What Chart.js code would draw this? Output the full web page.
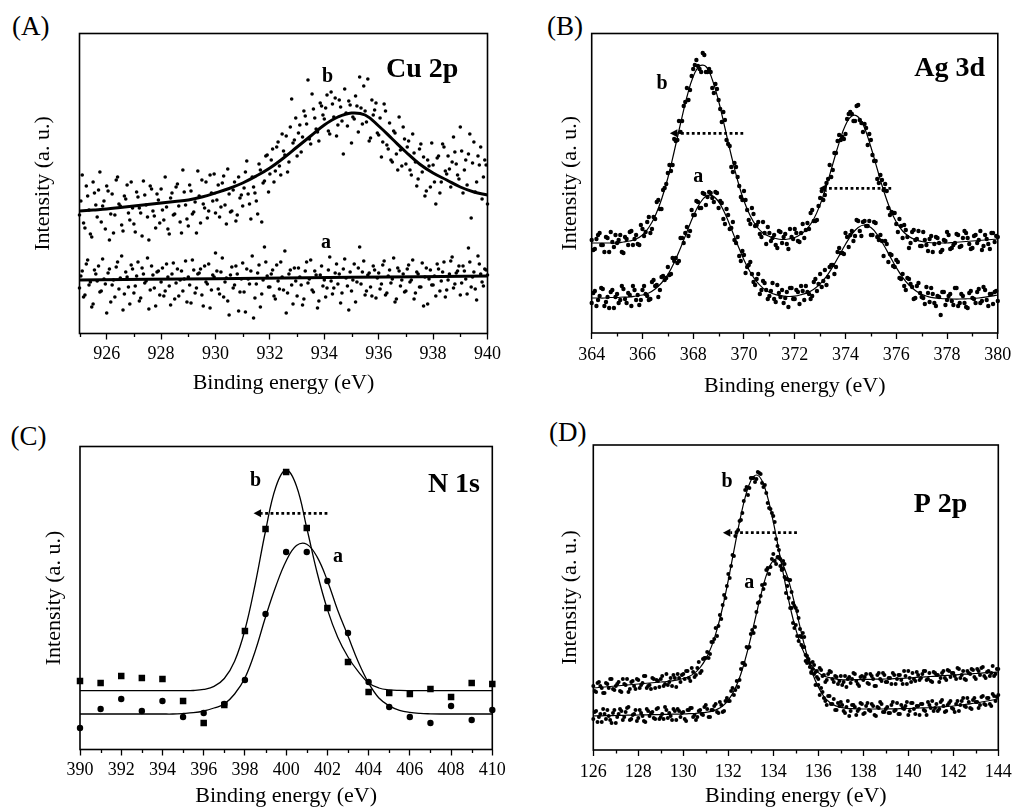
<!DOCTYPE html>
<html>
<head>
<meta charset="utf-8">
<title>XPS spectra: Cu 2p, Ag 3d, N 1s, P 2p</title>
<script src="https://cdn.jsdelivr.net/npm/chart.js@4.4.1/dist/chart.umd.min.js"></script>
<style>
  html, body { margin: 0; padding: 0; background: #fff; width: 1017px; height: 809px; overflow: hidden; }
  body { position: relative; }
  canvas { position: absolute; }
  .tag { position: absolute; font-family: "Liberation Serif", "Times New Roman", serif; font-size: 27px; line-height: 27px; color: #000; white-space: nowrap; }
</style>
</head>
<body>
<div class="tag" style="left:12px;top:12.5px">(A)</div>
<div class="tag" style="left:547px;top:12.5px">(B)</div>
<div class="tag" style="left:10.5px;top:422.5px">(C)</div>
<div class="tag" style="left:549px;top:419px">(D)</div>
<canvas id="panelA" width="510" height="410" style="left:0px;top:0px"></canvas>
<canvas id="panelB" width="509" height="410" style="left:508px;top:0px"></canvas>
<canvas id="panelC" width="510" height="420" style="left:0px;top:410px"></canvas>
<canvas id="panelD" width="509" height="420" style="left:508px;top:410px"></canvas>
<script>
// Each scan is stored as two interleaved halves: the main grid and the grid shifted by half a step.

// ---------- Cu 2p (panel A): scan 925-940 eV ----------
const cuScanStart = 925, cuScanStep = 0.1;
const cuMidStart = 925.05;
const cuPointsB = [
  117,157,104,136,98,150,127,142,110,131,
  146,92,138,117,155,126,101,133,119,150,
  108,140,124,96,137,115,146,121,104,132,
  143,112,125,98,139,118,148,110,162,127,
  106,141,120,99,136,152,124,114,157,131,
  119,147,125,156,108,138,121,150,117,134,
  126,160,138,113,145,131,168,110,151,177,
  158,183,161,190,157,181,196,170,233,192,
  176,207,195,216,252,188,223,203,191,226,
  213,237,198,228,234,207,225,178,219,231,
  189,213,226,255,208,221,253,194,217,229,
  197,175,228,187,209,170,199,162,182,205,
  168,191,157,179,146,183,160,136,172,145,
  167,128,176,150,185,158,163,170,180,157,
  205,139,172,178,114,190,150,167,133,172,
  128
];
const cuPointsBMid = [
  131,109,146,122,95,139,115,160,126,103,
  141,118,99,152,128,107,136,147,112,124,
  100,135,119,151,127,92,143,116,138,109,
  122,155,103,134,117,145,126,99,140,113,
  147,118,130,161,109,128,150,121,139,158,
  132,115,149,127,163,120,142,111,155,137,
  144,171,128,155,139,118,162,149,176,140,
  172,150,185,166,198,177,160,205,189,214,
  199,180,221,208,193,238,214,200,229,217,
  224,201,240,215,196,232,211,243,206,227,
  215,236,200,224,246,210,191,232,222,199,
  214,190,221,183,172,201,178,215,166,193,
  185,162,198,170,153,188,175,141,166,189,
  150,174,139,188,161,176,145,195,168,153,
  181,162,147,198,169,140,176,185,155,167
];
const cuPointsA = [
  44,61,37,72,50,28,58,66,41,53,
  19,63,47,35,70,54,22,60,45,67,
  39,56,31,64,49,74,42,57,26,61,
  50,36,68,46,58,33,63,52,41,71,
  55,29,62,44,59,37,66,48,24,57,
  79,43,60,35,54,17,65,47,58,40,
  69,20,53,61,14,48,67,38,85,56,
  45,62,33,51,70,42,19,58,47,64,
  36,55,27,61,49,72,40,57,31,66,
  52,44,75,38,59,48,29,63,54,22,
  41,68,50,85,60,37,57,45,66,34,
  59,48,71,39,62,53,30,64,46,58,
  41,67,52,33,60,45,69,55,28,62,
  47,36,63,51,70,42,58,75,48,61,
  37,66,53,84,45,60,32,68,50,63,
  57
];
const cuPointsAMid = [
  56,35,68,47,25,62,51,40,73,48,
  59,30,52,65,43,76,38,55,28,63,
  46,70,34,58,51,23,66,44,60,37,
  64,41,55,27,69,49,36,61,53,30,
  47,72,39,58,63,26,50,68,42,55,
  61,38,74,50,31,57,44,66,21,53,
  40,63,48,76,34,59,25,52,70,45,
  58,36,67,43,55,81,39,62,28,51,
  64,47,33,70,53,42,61,24,57,46,
  35,62,51,44,68,58,39,73,46,60,
  52,30,64,48,71,41,59,36,62,54,
  43,67,37,56,49,74,33,61,52,40,
  63,50,72,39,58,45,26,64,53,47,
  56,68,41,60,35,52,71,44,59,66,
  49,61,38,70,55,43,76,58,46,62
];
const cuFitStep = 0.5;
const cuFitB = [121,122,123,124.5,126,127.5,129,130.5,132,135,139,143.5,149,156,164,174,185,196,207,215,219,217,206,193,180,168,159,152,145,140,137];
const cuFitAStep = 5;
const cuFitA = [52,53.3,54.7,56];
const cuTicks = [926,928,930,932,934,936,938,940];
const cuMinorTicks = [925,927,929,931,933,935,937,939];

// ---------- Ag 3d (panel B): scan 364-380 eV ----------
const agScanStart = 364, agScanStep = 0.125;
const agMidStart = 364.0625;
const agPointsB = [
  92,83,97,87,80,94,100,85,
  89,97,79,93,100,87,97,87,
  103,100,115,103,113,132,123,144,
  159,161,193,192,200,226,244,242,
  263,272,263,279,260,263,244,248,
  232,210,212,188,165,169,155,135,
  141,122,108,118,107,98,110,88,
  99,94,87,101,89,98,83,95,
  103,91,99,94,109,119,111,112,
  134,132,149,167,162,179,197,195,
  198,218,218,211,227,209,208,187,
  192,171,153,157,142,141,117,119,
  108,113,94,102,84,100,92,101,
  86,92,81,96,88,94,80,92,
  100,83,87,98,85,94,99,88,
  84,97,92,82,97,88,99,90,
  95
];
const agPointsBMid = [
  82,93,99,87,95,80,90,97,
  92,80,95,87,101,93,88,107,
  96,110,99,115,130,123,142,148,
  167,167,191,211,211,230,232,256,
  267,266,260,277,260,260,239,243,
  223,220,192,186,160,165,146,132,
  132,112,124,106,110,95,99,105,
  91,97,84,100,95,88,103,93,
  99,90,108,102,103,122,111,126,
  141,137,153,155,179,191,192,193,
  213,220,211,226,212,200,204,198,
  177,171,149,152,148,124,120,119,
  100,106,107,95,89,102,93,86,
  100,87,93,80,95,89,82,91,
  97,84,89,97,86,101,94,83,
  96,89,101,86,93,83,99,96
];
const agPointsA = [
  29,41,32,44,26,35,40,24,
  38,32,43,29,37,46,32,27,
  42,38,32,50,46,35,55,52,
  65,58,71,69,94,89,105,101,
  117,131,124,139,127,140,134,140,
  124,129,108,117,104,92,95,71,
  77,65,70,50,53,38,51,42,
  36,49,30,39,42,34,25,44,
  33,40,46,32,40,33,50,41,
  58,51,47,65,67,65,84,79,
  99,85,101,96,111,96,111,106,
  97,110,95,97,76,88,78,66,
  72,54,58,42,53,45,34,49,
  35,28,39,44,29,36,17,40,
  32,38,27,44,29,36,25,39,
  34,29,43,31,42,26,38,40,
  31
];
const agPointsAMid = [
  39,26,36,43,30,24,42,35,
  29,46,33,39,26,42,37,32,
  46,36,33,52,47,42,56,54,
  57,74,74,71,94,99,96,122,
  117,130,124,138,135,139,130,139,
  131,113,123,103,110,89,76,81,
  59,67,58,47,58,42,49,33,
  41,33,47,35,29,40,44,33,
  42,28,41,46,38,36,53,48,
  45,62,55,67,58,80,79,78,
  95,97,91,112,101,110,106,111,
  97,109,92,91,91,70,77,65,
  70,53,46,54,48,33,46,39,
  34,45,30,38,26,35,40,27,
  36,31,44,26,38,29,24,41,
  33,40,29,45,32,38,28,41
];
const agFitStep = 0.25;
const agFitB = [
  89,89,89,89, 89,90,91,93, 97,104.5,116,132.5, 154,180.5,208.5,235,
  255.5,266,265.5,252.5, 231,204,176.5,151.5, 131,116,105.5,99, 95.5,93.5,92.5,93,
  94.5,98,103.7,113, 127.4,146,168,189.4, 207,216,215,204, 185,163,141.5,123.5,
  110,101,95.5,92.3, 90.5,89.5,89,89, 89,89.5,90,90.5, 91,91.5,92,92.5, 93
];
const agFitA = [
  34,34,34,34.5, 34.5,35,35,36, 37,39,43,49, 57.5,69.5,84,100,
  115.7,128.3,135.8,136.4, 130.3,118.5,103.3,87.2, 72.1,59.7,50.3,43.9, 39.8,37.4,36.1,35.5,
  35.8,37.3,39.4,42.8, 48.2,55.7,65.3,76.4, 87.7,97.7,104.6,107, 104.4,97.4,87.3,75.8,
  64.5,54.7,47,41.4, 37.6,35.4,34.1,33.5, 33.2,33,33,33.2, 33.5,34,34.8,35.8, 37
];
const agTicks = [364,366,368,370,372,374,376,378,380];
const agMinorTicks = [365,367,369,371,373,375,377,379];

// ---------- N 1s (panel C): 1 eV step, 390-410 eV ----------
const nScanStart = 390, nScanStep = 1;
const nPointsB = [68,66,73,71,70,48,26,44,118,220,277,221,141,87,57,56,55,60,52,66,65];
const nPointsA = [21,40,50,38,48,32,36,45,69,135,197,197,168,116,67,42,32,26,43,29,39];
const nFitStep = 0.5;
const nFitB = [
  58.3,58.3,58.3,58.3,58.3,58.3,58.3,58.3,58.3,58.3,
  58.3,58.5,59.6,62.6,70.5,87.8,119,165,218,262,
  279,263,221,176.5,139.6,111.7,92,77.3,66,61,
  59.2,58.6,58.4,58.3,58.3,58.3,58.3,58.3,58.3,58.3,58.3
];
const nFitA = [
  35,35,35,35,35,35,35,35,35,35,
  35.5,36.3,38,41,45,55,71,98,132,162.7,
  188,203.4,204.8,192.1,168.3,138.7,113,87,66,51,
  43.1,38.7,36.6,35.6,35.2,35,35,35,35,35,35
];
const nTicks = [390,392,394,396,398,400,402,404,406,408,410];
const nMinorTicks = [391,393,395,397,399,401,403,405,407,409];

// ---------- P 2p (panel D): scan 126-144 eV ----------
const pScanStart = 126, pScanStep = 0.125;
const pMidStart = 126.0625;
const pPointsB = [
  64,58,68,62,57,66,71,61,
  64,68,58,66,71,61,69,61,
  70,65,74,62,65,72,62,69,
  71,64,76,68,64,72,76,68,
  76,79,72,82,73,82,77,91,
  92,92,108,111,114,135,145,152,
  176,184,194,218,229,237,260,255,
  272,272,271,277,267,265,247,241,
  234,211,200,180,173,164,142,127,
  125,109,105,103,87,87,88,78,
  71,80,75,70,79,71,74,66,
  74,68,63,73,71,76,66,73,
  70,76,66,74,64,75,71,77,
  68,72,66,75,71,75,66,74,
  79,68,71,78,70,76,79,71,
  69,78,75,68,77,72,80,73,
  77,71,81,75,71,79,76,80,
  71,79,82,74,78,74,84,76,
  81
];
const pPointsBMid = [
  59,67,64,57,67,62,71,60,
  66,59,71,65,58,68,64,71,
  62,67,74,64,61,71,70,63,
  74,66,65,72,75,63,72,75,
  71,79,69,78,75,88,79,92,
  98,96,108,122,124,131,155,164,
  172,195,214,220,230,249,263,262,
  272,268,278,276,263,257,242,237,
  228,204,191,181,157,152,142,122,
  114,114,103,89,90,78,85,79,
  82,74,68,76,78,68,73,69,
  65,74,71,67,77,69,64,74,
  73,67,76,71,64,77,69,75,
  68,72,77,66,75,70,79,66,
  72,77,69,75,72,79,70,77,
  68,77,75,72,79,70,79,77,
  74,82,72,79,70,77,81,73,
  81,75,83,72,79,77,74,81
];
const pPointsA = [
  31,39,33,28,36,40,30,37,
  27,36,39,33,42,30,35,40,
  32,37,29,41,34,38,31,42,
  33,31,40,37,30,39,41,33,
  38,29,40,42,35,33,40,35,
  45,33,40,44,38,48,38,49,
  49,59,55,69,70,87,85,102,
  116,117,138,148,165,166,182,183,
  196,186,193,181,186,171,170,147,
  142,132,113,113,94,83,81,65,
  65,62,52,45,54,46,40,47,
  48,39,43,34,45,43,39,47,
  36,44,40,46,35,43,48,38,
  41,37,45,39,47,36,42,44,
  35,47,41,44,35,46,39,48,
  42,39,46,41,50,38,45,49,
  41,46,39,49,44,52,42,50,
  48,42,53,46,52,46,56,49,
  55
];
const pPointsAMid = [
  38,28,36,41,31,34,27,40,
  33,41,30,38,43,31,36,29,
  40,34,28,39,37,32,41,31,
  36,43,32,34,41,30,39,37,
  31,40,42,33,30,39,36,43,
  41,33,40,46,37,45,39,52,
  49,62,60,63,81,87,103,103,
  120,123,147,154,161,180,176,191,
  189,193,184,189,171,170,158,144,
  139,121,117,95,91,77,76,73,
  55,58,49,54,46,51,40,44,
  45,37,49,39,45,35,41,46,
  37,47,39,44,34,42,46,38,
  43,37,48,40,36,45,41,48,
  39,47,36,44,46,40,35,45,
  49,42,39,48,44,39,47,42,
  38,49,45,52,43,48,41,52,
  48,45,54,45,52,44,54,53
];
const pFitStep = 0.25;
const pFitB = [
  62,62.5,63,63.5, 64,64.5,65,65.5, 66,66.5,67,67.5, 68,68.5,69.2,70.2,
  71.5,73.5,76.9,82.5, 91.1,103.4,120.6,143, 169.9,199.3,228.1,252.6, 269.2,275,269.2,252.6,
  228.1,199.3,169.9,143, 120.6,103.4,91.1,82.8, 77.4,74,72.3,71.2, 70.3,70.1,70.2,70.4,
  70.5,70.6,70.8,70.9, 71,71.2,71.5,71.7, 72,72.4,72.8,73.1, 73.5,73.9,74.3,74.6,
  75,75.4,75.8,76.1, 76.5,76.9,77.3,77.6, 78
];
const pFitA = [
  34,34.1,34.3,34.4, 34.5,34.6,34.8,34.9, 35,35.1,35.3,35.4, 35.5,35.6,35.8,35.9,
  36,36.3,36.5,37.1, 37.6,38.7,40.6,44, 49.8,58.9,72.2,90.3, 112.3,136.3,159.7,178.6,
  189.6,190.7,181.5,163.9, 141.2,117,94.8,76.3, 62.9,53.5,47.7,44.4, 42.7,41.7,41.3,41.1,
  41,41,41,41, 41,41.1,41.2,41.4, 41.5,41.7,42,42.2, 42.5,42.9,43.2,43.6,
  44,44.7,45.5,46.2, 47,48,49,50, 51
];
const pTicks = [126,128,130,132,134,136,138,140,142,144];
const pMinorTicks = [127,129,131,133,135,137,139,141,143];

// ---------- helpers ----------
const SERIF = '"Liberation Serif", "Times New Roman", serif';
Chart.defaults.font.family = SERIF;
Chart.defaults.color = '#000';

function toXY(start, step, values) {
  return values.map((v, i) => ({ x: Math.round((start + i * step) * 10000) / 10000, y: v }));
}

// frame, minor ticks, shift arrows and text labels, all placed through the chart scales
const decor = {
  id: 'decor',
  afterDraw(chart, args, opts) {
    const { ctx, chartArea: a } = chart;
    const xs = chart.scales.x, ys = chart.scales.y;
    ctx.save();
    ctx.strokeStyle = '#000';
    ctx.fillStyle = '#000';
    ctx.lineWidth = 1.3;
    ctx.beginPath();
    (opts.minorTicks || []).forEach(v => {
      const px = Math.round(xs.getPixelForValue(v)) + 0.5;
      ctx.moveTo(px, a.bottom);
      ctx.lineTo(px, a.bottom + 3.5);
    });
    ctx.stroke();
    ctx.lineWidth = 1.6;
    ctx.strokeRect(a.left, a.top, a.right - a.left, a.bottom - a.top);
    (opts.arrows || []).forEach(ar => {
      const y0 = ys.getPixelForValue(ar.y);
      const xt = xs.getPixelForValue(ar.tail);
      const xh = xs.getPixelForValue(ar.head);
      const headLen = 7.5, headHalf = 4;
      ctx.lineWidth = 2.8;
      ctx.setLineDash([2.8, 2.6]);
      ctx.beginPath();
      ctx.moveTo(xt, y0);
      ctx.lineTo(xh + headLen, y0);
      ctx.stroke();
      ctx.setLineDash([]);
      ctx.beginPath();
      ctx.moveTo(xh, y0);
      ctx.lineTo(xh + headLen, y0 - headHalf);
      ctx.lineTo(xh + headLen, y0 + headHalf);
      ctx.closePath();
      ctx.fill();
    });
    (opts.texts || []).forEach(t => {
      ctx.font = 'bold ' + t.size + 'px ' + SERIF;
      ctx.textAlign = 'center';
      ctx.textBaseline = 'alphabetic';
      ctx.fillText(t.text, xs.getPixelForValue(t.x), ys.getPixelForValue(t.y));
    });
    ctx.restore();
  }
};

function makePanel(id, p) {
  const datasets = [];
  p.fits.forEach(f => datasets.push({
    data: f.data, showLine: true, borderColor: '#000', borderWidth: p.fitWidth,
    pointRadius: 0, pointHoverRadius: 0, tension: 0.4, fill: false, order: 0
  }));
  p.points.forEach(s => datasets.push({
    data: s.data, showLine: false, pointStyle: s.style || 'circle', pointRadius: s.radius,
    pointHoverRadius: s.radius, pointBackgroundColor: '#000', pointBorderColor: '#000',
    pointBorderWidth: 0, order: 1, clip: false
  }));
  return new Chart(document.getElementById(id), {
    type: 'scatter',
    data: { datasets },
    plugins: [decor],
    options: {
      responsive: false, animation: false, devicePixelRatio: 1, events: [],
      layout: { padding: { top: p.padTop, right: p.padRight, left: 0, bottom: 0 } },
      plugins: {
        legend: { display: false }, tooltip: { enabled: false },
        decor: { minorTicks: p.minorTicks, arrows: p.arrows, texts: p.texts }
      },
      scales: {
        x: {
          type: 'linear', position: 'bottom', min: p.xMin, max: p.xMax,
          afterBuildTicks: s => { s.ticks = p.ticks.map(v => ({ value: v })); },
          afterFit: s => { s.height = p.xHeight; },
          ticks: { autoSkip: false, maxRotation: 0, padding: p.tickPad, color: '#000',
                   font: { size: 18, family: SERIF }, callback: v => String(v) },
          grid: { display: true, drawOnChartArea: false, drawTicks: true, tickLength: 6,
                  tickWidth: 1.3, tickColor: '#000', color: '#000' },
          border: { display: false },
          title: { display: true, text: 'Binding energy (eV)', color: '#000',
                   font: { size: 22, family: SERIF }, padding: { top: 0, bottom: p.xTitlePad } }
        },
        y: {
          type: 'linear', position: 'left', min: p.yMin, max: p.yMax,
          afterFit: s => { s.width = p.yWidth; },
          ticks: { display: false },
          grid: { display: false },
          border: { display: false },
          title: { display: true, text: 'Intensity (a. u.)', color: '#000',
                   font: { size: 22, family: SERIF }, padding: { top: p.yTitlePad, bottom: 0 } }
        }
      }
    }
  });
}

makePanel('panelA', {
  xMin: 925, xMax: 940, yMin: -1.5, yMax: 298.5,
  padTop: 33.5, padRight: 22.5, yWidth: 79.5, xHeight: 76.5,
  tickPad: 4.2, xTitlePad: 13.3, yTitlePad: 29.8,
  ticks: cuTicks, minorTicks: cuMinorTicks, fitWidth: 3,
  fits: [
    { data: toXY(cuScanStart, cuFitStep, cuFitB) },
    { data: toXY(cuScanStart, cuFitAStep, cuFitA) }
  ],
  points: [
    { data: toXY(cuScanStart, cuScanStep, cuPointsB).concat(toXY(cuMidStart, cuScanStep, cuPointsBMid)), radius: 1.8 },
    { data: toXY(cuScanStart, cuScanStep, cuPointsA).concat(toXY(cuMidStart, cuScanStep, cuPointsAMid)), radius: 1.8 }
  ],
  arrows: [],
  texts: [
    { text: 'Cu 2p', x: 937.6, y: 255, size: 28 },
    { text: 'b', x: 934.12, y: 250.3, size: 20 },
    { text: 'a', x: 934.06, y: 83.7, size: 20 }
  ]
});

makePanel('panelB', {
  xMin: 364, xMax: 380, yMin: -1, yMax: 298.5,
  padTop: 33.5, padRight: 18.7, yWidth: 83.7, xHeight: 77,
  tickPad: 5.7, xTitlePad: 10.8, yTitlePad: 48.8,
  ticks: agTicks, minorTicks: agMinorTicks, fitWidth: 1.2,
  fits: [
    { data: toXY(agScanStart, agFitStep, agFitB) },
    { data: toXY(agScanStart, agFitStep, agFitA) }
  ],
  points: [
    { data: toXY(agScanStart, agScanStep, agPointsB).concat(toXY(agMidStart, agScanStep, agPointsBMid)), radius: 2.2 },
    { data: toXY(agScanStart, agScanStep, agPointsA).concat(toXY(agMidStart, agScanStep, agPointsAMid)), radius: 2.2 }
  ],
  arrows: [
    { tail: 369.97, head: 367.08, y: 198.7 },
    { tail: 375.8, head: 372.96, y: 143.7 }
  ],
  texts: [
    { text: 'Ag 3d', x: 378.1, y: 256, size: 28 },
    { text: 'b', x: 366.77, y: 242.7, size: 20 },
    { text: 'a', x: 368.2, y: 150.3, size: 20 }
  ]
});

makePanel('panelC', {
  xMin: 390, xMax: 410, yMin: -0.5, yMax: 302.5,
  padTop: 36.5, padRight: 16.7, yWidth: 80, xHeight: 80.5,
  tickPad: 4.2, xTitlePad: 20.1, yTitlePad: 40.8,
  ticks: nTicks, minorTicks: nMinorTicks, fitWidth: 1.3,
  fits: [
    { data: toXY(nScanStart, nFitStep, nFitB) },
    { data: toXY(nScanStart, nFitStep, nFitA) }
  ],
  points: [
    { data: toXY(nScanStart, nScanStep, nPointsB), radius: 4.6, style: 'rect' },
    { data: toXY(nScanStart, nScanStep, nPointsA), radius: 3.2 }
  ],
  arrows: [ { tail: 402.0, head: 398.42, y: 235.7 } ],
  texts: [
    { text: 'N 1s', x: 408.14, y: 257.3, size: 28 },
    { text: 'b', x: 398.52, y: 263, size: 20 },
    { text: 'a', x: 402.52, y: 187.3, size: 20 }
  ]
});

makePanel('panelD', {
  xMin: 126, xMax: 144, yMin: 0, yMax: 305,
  padTop: 35, padRight: 17.7, yWidth: 85.3, xHeight: 80,
  tickPad: 5.2, xTitlePad: 20.1, yTitlePad: 48.8,
  ticks: pTicks, minorTicks: pMinorTicks, fitWidth: 1.2,
  fits: [
    { data: toXY(pScanStart, pFitStep, pFitB) },
    { data: toXY(pScanStart, pFitStep, pFitA) }
  ],
  points: [
    { data: toXY(pScanStart, pScanStep, pPointsB).concat(toXY(pMidStart, pScanStep, pPointsBMid)), radius: 2 },
    { data: toXY(pScanStart, pScanStep, pPointsA).concat(toXY(pMidStart, pScanStep, pPointsAMid)), radius: 2 }
  ],
  arrows: [ { tail: 135.05, head: 131.76, y: 217.3 } ],
  texts: [
    { text: 'P 2p', x: 141.43, y: 238.3, size: 28 },
    { text: 'b', x: 131.94, y: 262.7, size: 20 },
    { text: 'a', x: 132.93, y: 161.7, size: 20 }
  ]
});
</script>
</body>
</html>
